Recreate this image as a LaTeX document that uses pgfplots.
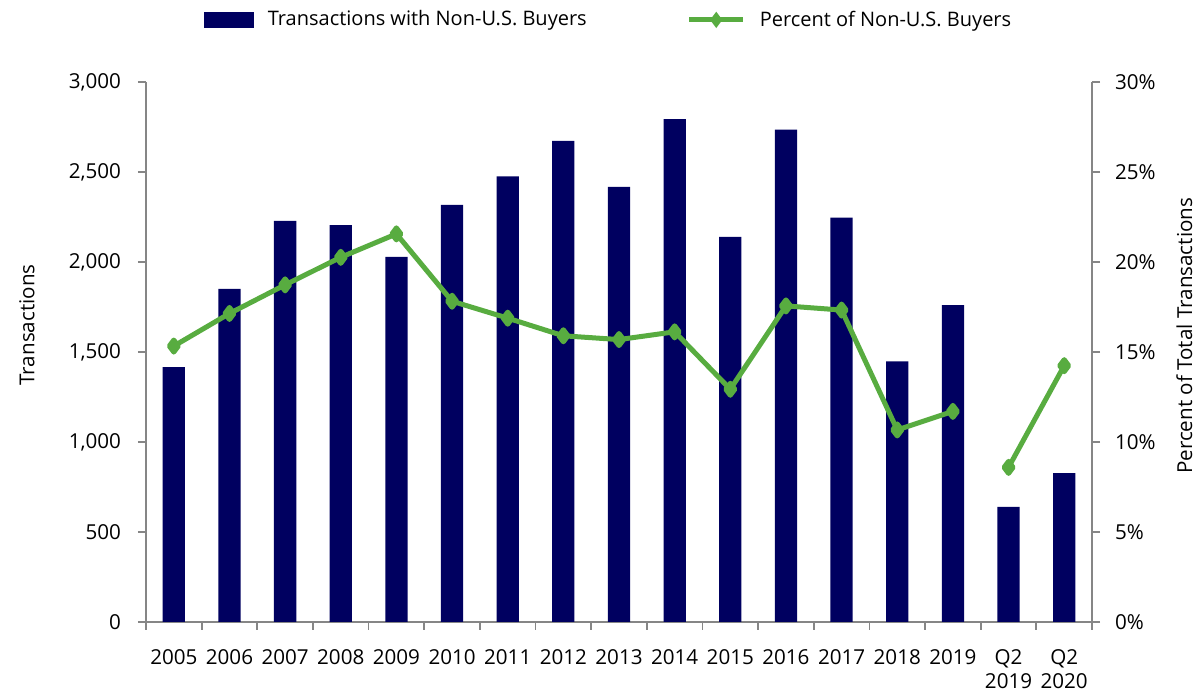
\documentclass[border=0pt]{standalone}
\usepackage{pgfplots}
\pgfplotsset{compat=1.18}
\usepackage{fontspec}
\setmainfont{Open Sans}
\setsansfont{Open Sans}
\definecolor{navy}{HTML}{000060}
\definecolor{lgreen}{HTML}{58AC40}
\definecolor{axgray}{HTML}{868686}

\pgfplotsset{
  barlegend/.style={legend image code/.code={\fill[navy] (0pt,-4pt) rectangle (25pt,4pt);}},
  linelegend/.style={legend image code/.code={%
    \draw[##1,mark=none] (0pt,0pt) -- (27pt,0pt);
    \draw[##1] plot coordinates {(13.5pt,0pt)};}},
}

\begin{document}
\begin{tikzpicture}[font=\fontsize{10.3}{12.4}\selectfont]
\pgfplotsset{
  base/.style={
    scale only axis, width=473pt, height=270pt,
    at={(0,0)}, anchor=south west,
    xmin=-0.5, xmax=16.5,
    axis line style={draw=axgray, line width=0.9pt, -},
    tick style={draw=axgray, line width=0.9pt},
    /pgf/number format/assume math mode=true,
    tick label style={font=\fontsize{10.3}{12.4}\selectfont},
    label style={font=\fontsize{10.3}{12.4}\selectfont},
    major tick length=4pt, minor tick length=4pt,
    tick align=outside,
    clip=false,
  }
}
% left axis: bars
\begin{axis}[base,
  axis x line*=bottom, axis y line*=left,
  xtick pos=bottom, ytick pos=left,
  ymin=0, ymax=3000, ytick={0,500,...,3000},
  scaled y ticks=false,
  xtick={0,...,16},
  xticklabels={2005,2006,2007,2008,2009,2010,2011,2012,2013,2014,2015,2016,2017,2018,2019,{Q2\\2019},{Q2\\2020}},
  major x tick style={draw=none},
  minor xtick={-0.5,0.5,...,16.5},
  xticklabel style={align=center, anchor=north, yshift=-6pt},
  yticklabel style={xshift=-5pt},
  ylabel={Transactions},
  every axis y label/.style={at={(axis description cs:-0.126,0.55)}, rotate=90, anchor=center},
  legend style={at={(axis description cs:0.49,1.115)}, anchor=center, draw=none,
    legend columns=2, font=\fontsize{10}{12}\selectfont,
    /tikz/every even column/.append style={column sep=48pt},
    /tikz/every odd column/.append style={column sep=5pt}},
]
\addplot[ybar, bar width=0.4, fill=navy, draw=none, barlegend]
  coordinates {(0,1416) (1,1850) (2,2228) (3,2205) (4,2028) (5,2318) (6,2475)
    (7,2673) (8,2418) (9,2794) (10,2139) (11,2735) (12,2247) (13,1448)
    (14,1760) (15,639) (16,827)};
\addlegendentry{Transactions with Non-U.S. Buyers}
\addlegendimage{lgreen, line width=2.5pt, mark=diamond*, mark size=2pt, linelegend}
\addlegendentry{Percent of Non-U.S. Buyers}
\end{axis}
% right axis: percent line
\begin{axis}[base,
  axis x line=none, axis y line*=right, ytick pos=right,
  xtick=\empty,
  ymin=0, ymax=30, ytick={0,5,...,30},
  yticklabel={\pgfmathprintnumber{\tick}\%},
  yticklabel style={xshift=4pt},
  ylabel={Percent of Total Transactions},
  every axis y label/.style={at={(axis description cs:1.0975,0.53)}, rotate=90, anchor=center},
]
\addplot[lgreen, line width=2.5pt, line join=round, mark=diamond*, mark size=3pt,
  unbounded coords=jump]
  coordinates {(0,15.33) (1,17.14) (2,18.73) (3,20.26) (4,21.56) (5,17.82)
    (6,16.88) (7,15.90) (8,15.69) (9,16.12) (10,12.93) (11,17.56) (12,17.33)
    (13,10.67) (14,11.70) (14.5,nan) (15,8.59) (16,14.24)};
\end{axis}
\pgfresetboundingbox
\path[use as bounding box] (-73pt,-36pt) rectangle (528pt,311pt);
\end{tikzpicture}
\end{document}
